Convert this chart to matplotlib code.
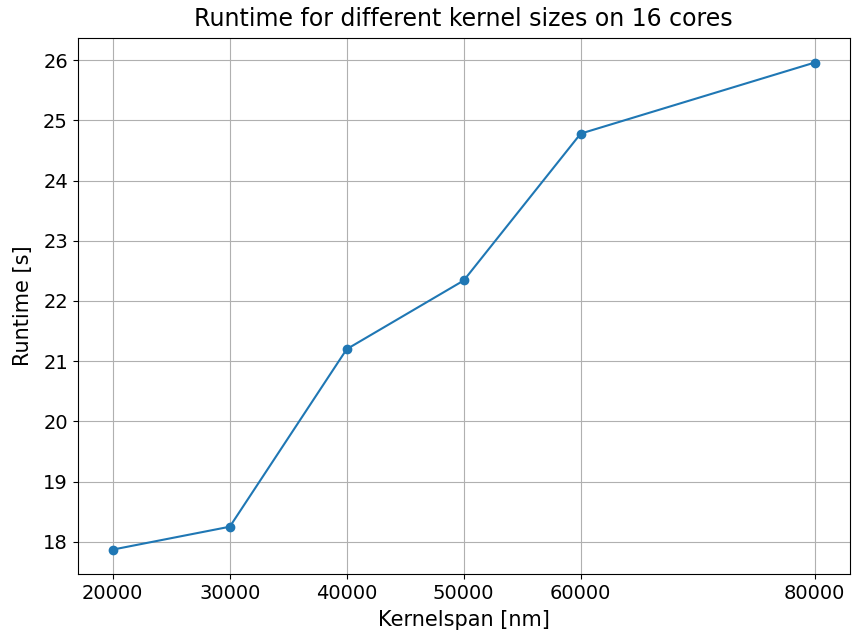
import matplotlib.pyplot as plt

kernelspan = [20000, 30000, 40000, 50000, 60000, 80000]
runtime = [17.87, 18.25, 21.20, 22.34, 24.78, 25.96]

plt.rcParams['font.size'] = 14

fig, ax = plt.subplots(figsize=(8.54, 6.37), dpi=100)
ax.plot(kernelspan, runtime, marker='o')
ax.set_xticks(kernelspan)
ax.set_xlabel('Kernelspan [nm]', fontsize=15, labelpad=5)
ax.set_ylabel('Runtime [s]', fontsize=15, labelpad=7)
ax.set_title('Runtime for different kernel sizes on 16 cores', fontsize=17, pad=9)
ax.grid(True)
fig.subplots_adjust(left=0.091, right=0.995, top=0.94, bottom=0.099)
fig.savefig('out.png')
